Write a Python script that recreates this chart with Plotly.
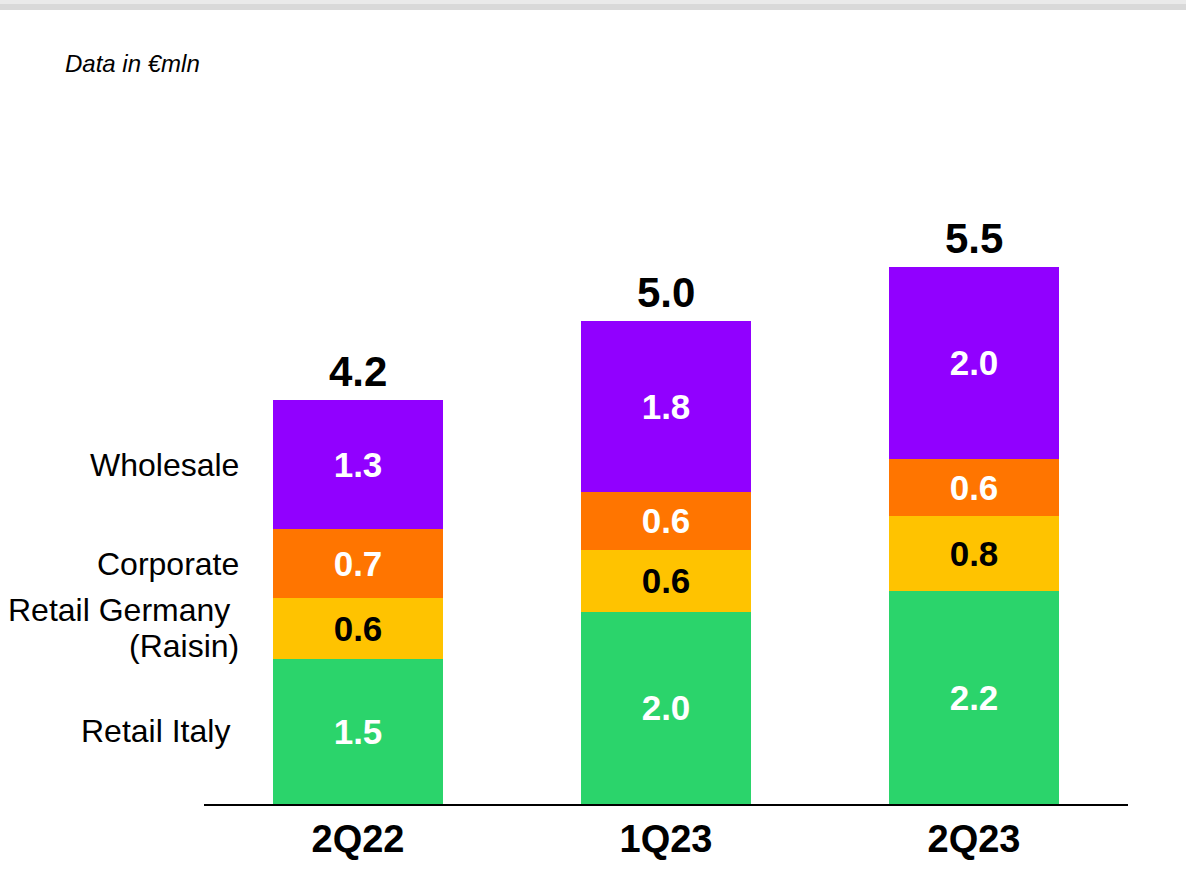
import plotly.graph_objects as go

# Quarterly revenue by segment, € mln
quarters = ["2Q22", "1Q23", "2Q23"]
retail_italy = [1.50, 1.98, 2.20]
retail_germany = [0.62, 0.64, 0.77]
corporate = [0.71, 0.60, 0.59]
wholesale = [1.33, 1.76, 1.98]

segments = [
    ("Retail Italy", retail_italy, "#2BD46B", "white"),
    ("Retail Germany (Raisin)", retail_germany, "#FFC300", "black"),
    ("Corporate", corporate, "#FF7500", "white"),
    ("Wholesale", wholesale, "#9100FF", "white"),
]

FONT = "Liberation Sans, Arial, sans-serif"

fig = go.Figure()
for name, vals, color, tcolor in segments:
    fig.add_trace(go.Bar(
        x=quarters, y=vals, name=name,
        marker=dict(color=color, line=dict(width=0)),
        text=vals, texttemplate="<b>%{y:.1f}</b>",
        textposition="inside", insidetextanchor="middle",
        textangle=0, constraintext="none",
        textfont=dict(family=FONT, size=35, color=tcolor),
        hoverinfo="skip",
    ))

totals = [a + b + c + d for a, b, c, d in zip(retail_italy, retail_germany, corporate, wholesale)]
for q, t in zip(quarters, totals):
    fig.add_annotation(
        x=q, y=t, xref="x", yref="y", text=f"<b>{t:.1f}</b>",
        showarrow=False, yanchor="bottom", yshift=3,
        font=dict(family=FONT, size=42, color="black"),
    )

# Segment names beside the first column, centred on its segments
first = [retail_italy[0], retail_germany[0], corporate[0], wholesale[0]]
mids = []
acc = 0.0
for v in first:
    mids.append(acc + v / 2)
    acc += v
side_labels = [
    ("Retail Italy\u00a0", mids[0], 0),
    ("Retail Germany\u00a0", mids[1], 18),
    ("(Raisin)", mids[1], -18),
    ("Corporate", mids[2], 0),
    ("Wholesale", mids[3], 0),
]
PLOT_LEFT, PLOT_W = 204, 924
PLOT_TOP, PLOT_BOTTOM = 222, 804
for txt, yv, ys in side_labels:
    fig.add_annotation(
        x=(241 - PLOT_LEFT) / PLOT_W, xref="paper", y=yv, yref="y", text=txt,
        showarrow=False, xanchor="right", yanchor="middle", yshift=ys,
        align="right", font=dict(family=FONT, size=32, color="black"),
    )

fig.add_annotation(
    x=(63 - PLOT_LEFT) / PLOT_W, y=(PLOT_BOTTOM - 63) / (PLOT_BOTTOM - PLOT_TOP),
    xref="paper", yref="paper", text="<i>Data in €mln</i>",
    showarrow=False, xanchor="left", yanchor="middle",
    font=dict(family=FONT, size=24, color="black"),
)

# Grey band across the top of the page
H = PLOT_BOTTOM - PLOT_TOP
fig.add_shape(type="rect", xref="paper", yref="paper",
              x0=-1, x1=2, y0=(PLOT_BOTTOM - 0) / H, y1=(PLOT_BOTTOM - 4) / H,
              fillcolor="#EAEAEA", line=dict(width=0), layer="below")
fig.add_shape(type="rect", xref="paper", yref="paper",
              x0=-1, x1=2, y0=(PLOT_BOTTOM - 4) / H, y1=(PLOT_BOTTOM - 10) / H,
              fillcolor="#D9D9D9", line=dict(width=0), layer="below")

fig.update_layout(
    barmode="stack",
    bargap=0.445,
    width=1186, height=882,
    margin=dict(l=PLOT_LEFT, r=1186 - PLOT_LEFT - PLOT_W, t=PLOT_TOP,
                b=882 - PLOT_BOTTOM, autoexpand=False),
    plot_bgcolor="white", paper_bgcolor="white",
    showlegend=False,
    font=dict(family=FONT),
    xaxis=dict(
        range=[-0.5, 2.5], showline=True, linecolor="black", linewidth=2,
        showgrid=False, zeroline=False, ticks="",
        tickfont=dict(family=FONT, size=38, color="black"),
        tickvals=quarters, ticktext=[f"<b>{q}</b>" for q in quarters],
    ),
    yaxis=dict(range=[0, 6.0], visible=False, showgrid=False, zeroline=False),
)

fig.write_html("out.html")
